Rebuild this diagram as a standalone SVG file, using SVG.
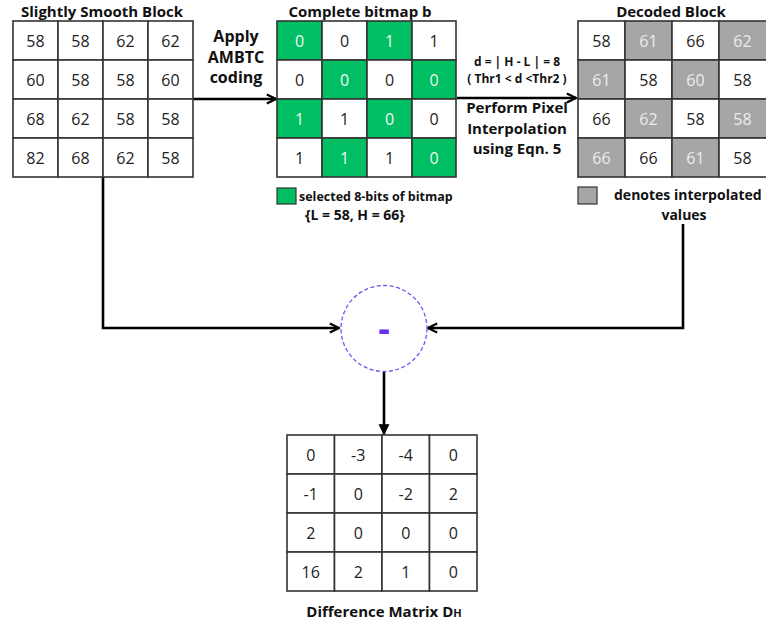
<svg xmlns="http://www.w3.org/2000/svg" width="766" height="628" viewBox="0 0 766 628">
<defs>
<style>
.cell{fill:#ffffff;stroke:#333333;stroke-width:1.6}
.g{fill:#00bf63}
.gr{fill:#a6a6a6}
.num{font-family:"Open Sans","Liberation Sans",sans-serif;font-size:16px;fill:#222;text-anchor:middle}
.wn{fill:#eef8f2}
.ln{fill:#ececec}
.lbl{font-family:"Open Sans","Liberation Sans",sans-serif;font-weight:bold;fill:#111;text-anchor:middle}
.conn{fill:none;stroke:#000;stroke-width:2.6}
</style>
<marker id="ah" viewBox="0 0 10 10" refX="9" refY="5" markerWidth="4.4" markerHeight="4.4" orient="auto" markerUnits="strokeWidth">
<path d="M1,1 L9,5 L1,9" fill="none" stroke="#000" stroke-width="2"/>
</marker>
<marker id="ahf" viewBox="0 0 10 10" refX="9" refY="5" markerWidth="4.4" markerHeight="4.4" orient="auto" markerUnits="strokeWidth">
<path d="M1,1 L9,5 L1,9 Z" fill="#000" stroke="#000" stroke-width="1"/>
</marker>
</defs>
<rect width="766" height="628" fill="#ffffff"/>

<g id="connectors">
<path class="conn" d="M193,99 L276,99" marker-end="url(#ah)"/>
<path class="conn" d="M457,98 L576,98" marker-end="url(#ah)"/>
<path class="conn" d="M103,177 L103,328 L339,328" marker-end="url(#ah)"/>
<path class="conn" d="M683,224 L683,328 L428,328" marker-end="url(#ah)"/>
<path class="conn" d="M384,372 L384,434" marker-end="url(#ahf)"/>
</g>

<g id="smooth-block">
<text class="lbl" x="102" y="16.5" font-size="15">Slightly Smooth Block</text>
<g>
<rect class="cell" x="13" y="21" width="45" height="39"/><rect class="cell" x="58" y="21" width="45" height="39"/><rect class="cell" x="103" y="21" width="45" height="39"/><rect class="cell" x="148" y="21" width="45" height="39"/>
<rect class="cell" x="13" y="60" width="45" height="39"/><rect class="cell" x="58" y="60" width="45" height="39"/><rect class="cell" x="103" y="60" width="45" height="39"/><rect class="cell" x="148" y="60" width="45" height="39"/>
<rect class="cell" x="13" y="99" width="45" height="39"/><rect class="cell" x="58" y="99" width="45" height="39"/><rect class="cell" x="103" y="99" width="45" height="39"/><rect class="cell" x="148" y="99" width="45" height="39"/>
<rect class="cell" x="13" y="138" width="45" height="39"/><rect class="cell" x="58" y="138" width="45" height="39"/><rect class="cell" x="103" y="138" width="45" height="39"/><rect class="cell" x="148" y="138" width="45" height="39"/>
</g>
<text class="num" x="35.5" y="46.5">58</text><text class="num" x="80.5" y="46.5">58</text><text class="num" x="125.5" y="46.5">62</text><text class="num" x="170.5" y="46.5">62</text>
<text class="num" x="35.5" y="85.5">60</text><text class="num" x="80.5" y="85.5">58</text><text class="num" x="125.5" y="85.5">58</text><text class="num" x="170.5" y="85.5">60</text>
<text class="num" x="35.5" y="124.5">68</text><text class="num" x="80.5" y="124.5">62</text><text class="num" x="125.5" y="124.5">58</text><text class="num" x="170.5" y="124.5">58</text>
<text class="num" x="35.5" y="163.5">82</text><text class="num" x="80.5" y="163.5">68</text><text class="num" x="125.5" y="163.5">62</text><text class="num" x="170.5" y="163.5">58</text>
</g>

<g id="apply-label">
<text class="lbl" x="236" y="42" font-size="16">Apply</text>
<text class="lbl" x="236" y="63" font-size="16">AMBTC</text>
<text class="lbl" x="236" y="83" font-size="16">coding</text>
</g>

<g id="bitmap">
<text class="lbl" x="360" y="16.5" font-size="15">Complete bitmap b</text>
<rect class="cell g" x="277" y="21" width="45" height="39"/><rect class="cell" x="322" y="21" width="45" height="39"/><rect class="cell g" x="367" y="21" width="45" height="39"/><rect class="cell" x="412" y="21" width="44" height="39"/>
<rect class="cell" x="277" y="60" width="45" height="39"/><rect class="cell g" x="322" y="60" width="45" height="39"/><rect class="cell" x="367" y="60" width="45" height="39"/><rect class="cell g" x="412" y="60" width="44" height="39"/>
<rect class="cell g" x="277" y="99" width="45" height="39"/><rect class="cell" x="322" y="99" width="45" height="39"/><rect class="cell g" x="367" y="99" width="45" height="39"/><rect class="cell" x="412" y="99" width="44" height="39"/>
<rect class="cell" x="277" y="138" width="45" height="39"/><rect class="cell g" x="322" y="138" width="45" height="39"/><rect class="cell" x="367" y="138" width="45" height="39"/><rect class="cell g" x="412" y="138" width="44" height="39"/>
<text class="num wn" x="299.5" y="46.5">0</text><text class="num" x="344.5" y="46.5">0</text><text class="num wn" x="389.5" y="46.5">1</text><text class="num" x="434" y="46.5">1</text>
<text class="num" x="299.5" y="85.5">0</text><text class="num wn" x="344.5" y="85.5">0</text><text class="num" x="389.5" y="85.5">0</text><text class="num wn" x="434" y="85.5">0</text>
<text class="num wn" x="299.5" y="124.5">1</text><text class="num" x="344.5" y="124.5">1</text><text class="num wn" x="389.5" y="124.5">0</text><text class="num" x="434" y="124.5">0</text>
<text class="num" x="299.5" y="163.5">1</text><text class="num wn" x="344.5" y="163.5">1</text><text class="num" x="389.5" y="163.5">1</text><text class="num wn" x="434" y="163.5">0</text>
</g>

<g id="bitmap-legend">
<rect x="277" y="188" width="19" height="16" fill="#00bf63" stroke="#333" stroke-width="1.2"/>
<text class="lbl" x="299" y="201" font-size="12.5" style="text-anchor:start">selected 8-bits of bitmap</text>
<text class="lbl" x="305" y="220" font-size="14" style="text-anchor:start">{L = 58, H = 66}</text>
</g>

<g id="interp-label">
<text class="lbl" x="517" y="66" font-size="12">d = | H - L | = 8</text>
<text class="lbl" x="517" y="83" font-size="12">( Thr1 &lt; d  &lt;Thr2 )</text>
<text class="lbl" x="517" y="113" font-size="15">Perform Pixel</text>
<text class="lbl" x="517" y="134" font-size="15">Interpolation</text>
<text class="lbl" x="517" y="154" font-size="15">using Eqn. 5</text>
</g>

<g id="decoded">
<text class="lbl" x="671" y="16.5" font-size="15">Decoded Block</text>
<rect class="cell" x="578" y="21" width="47" height="39"/><rect class="cell gr" x="625" y="21" width="47" height="39"/><rect class="cell" x="672" y="21" width="47" height="39"/><rect class="cell gr" x="719" y="21" width="48" height="39"/>
<rect class="cell gr" x="578" y="60" width="47" height="39"/><rect class="cell" x="625" y="60" width="47" height="39"/><rect class="cell gr" x="672" y="60" width="47" height="39"/><rect class="cell" x="719" y="60" width="48" height="39"/>
<rect class="cell" x="578" y="99" width="47" height="39"/><rect class="cell gr" x="625" y="99" width="47" height="39"/><rect class="cell" x="672" y="99" width="47" height="39"/><rect class="cell gr" x="719" y="99" width="48" height="39"/>
<rect class="cell gr" x="578" y="138" width="47" height="39"/><rect class="cell" x="625" y="138" width="47" height="39"/><rect class="cell gr" x="672" y="138" width="47" height="39"/><rect class="cell" x="719" y="138" width="48" height="39"/>
<text class="num" x="601.5" y="46.5">58</text><text class="num ln" x="648.5" y="46.5">61</text><text class="num" x="695.5" y="46.5">66</text><text class="num ln" x="742.5" y="46.5">62</text>
<text class="num ln" x="601.5" y="85.5">61</text><text class="num" x="648.5" y="85.5">58</text><text class="num ln" x="695.5" y="85.5">60</text><text class="num" x="742.5" y="85.5">58</text>
<text class="num" x="601.5" y="124.5">66</text><text class="num ln" x="648.5" y="124.5">62</text><text class="num" x="695.5" y="124.5">58</text><text class="num ln" x="742.5" y="124.5">58</text>
<text class="num ln" x="601.5" y="163.5">66</text><text class="num" x="648.5" y="163.5">66</text><text class="num ln" x="695.5" y="163.5">61</text><text class="num" x="742.5" y="163.5">58</text>
</g>

<g id="decoded-legend">
<rect x="578" y="187" width="19" height="17" fill="#a6a6a6" stroke="#333" stroke-width="1.2"/>
<text class="lbl" x="614" y="200" font-size="14" style="text-anchor:start">denotes interpolated</text>
<text class="lbl" x="684" y="220" font-size="14">values</text>
</g>

<g id="subtract">
<circle cx="384" cy="328.5" r="43" fill="#ffffff" stroke="#7a4cf0" stroke-width="1.3" stroke-dasharray="4 2.5"/>
<text x="384" y="341" font-family="Open Sans, Liberation Sans, sans-serif" font-weight="bold" font-size="36" fill="#6a2ff0" text-anchor="middle">-</text>
</g>

<g id="difference">
<rect class="cell" x="287" y="435" width="47.5" height="39"/><rect class="cell" x="334.5" y="435" width="47.5" height="39"/><rect class="cell" x="382" y="435" width="47.5" height="39"/><rect class="cell" x="429.5" y="435" width="47.5" height="39"/>
<rect class="cell" x="287" y="474" width="47.5" height="39"/><rect class="cell" x="334.5" y="474" width="47.5" height="39"/><rect class="cell" x="382" y="474" width="47.5" height="39"/><rect class="cell" x="429.5" y="474" width="47.5" height="39"/>
<rect class="cell" x="287" y="513" width="47.5" height="39"/><rect class="cell" x="334.5" y="513" width="47.5" height="39"/><rect class="cell" x="382" y="513" width="47.5" height="39"/><rect class="cell" x="429.5" y="513" width="47.5" height="39"/>
<rect class="cell" x="287" y="552" width="47.5" height="39"/><rect class="cell" x="334.5" y="552" width="47.5" height="39"/><rect class="cell" x="382" y="552" width="47.5" height="39"/><rect class="cell" x="429.5" y="552" width="47.5" height="39"/>
<text class="num" x="310.75" y="460.5">0</text><text class="num" x="358.25" y="460.5">-3</text><text class="num" x="405.75" y="460.5">-4</text><text class="num" x="453.25" y="460.5">0</text>
<text class="num" x="310.75" y="499.5">-1</text><text class="num" x="358.25" y="499.5">0</text><text class="num" x="405.75" y="499.5">-2</text><text class="num" x="453.25" y="499.5">2</text>
<text class="num" x="310.75" y="538.5">2</text><text class="num" x="358.25" y="538.5">0</text><text class="num" x="405.75" y="538.5">0</text><text class="num" x="453.25" y="538.5">0</text>
<text class="num" x="310.75" y="577.5">16</text><text class="num" x="358.25" y="577.5">2</text><text class="num" x="405.75" y="577.5">1</text><text class="num" x="453.25" y="577.5">0</text>
<text class="lbl" x="384" y="617" font-size="15">Difference Matrix D<tspan font-size="11">H</tspan></text>
</g>
</svg>
